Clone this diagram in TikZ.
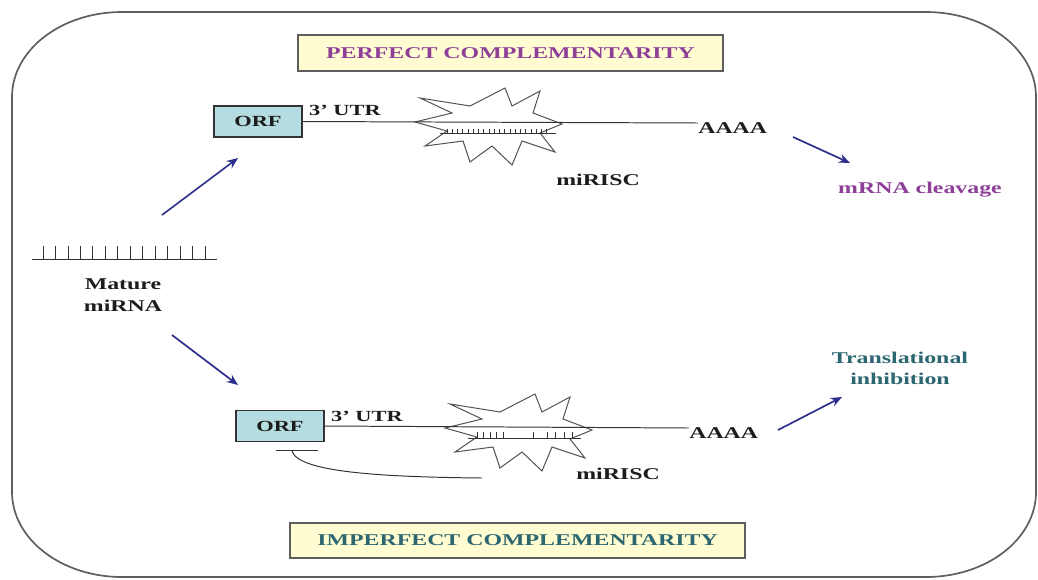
\documentclass[tikz,border=0pt]{standalone}
\usepackage{fontspec}
\setmainfont{Liberation Serif}[FakeStretch=1.45]
\usetikzlibrary{arrows.meta}
\definecolor{framegray}{HTML}{5E5E5E}
\definecolor{labelpurple}{HTML}{8E3F98}
\definecolor{labelteal}{HTML}{2C6671}
\definecolor{arrownavy}{HTML}{2B2E8A}
\definecolor{boxyellow}{HTML}{FFFCD2}
\definecolor{orfblue}{HTML}{B5DCE0}
\definecolor{rnagray}{HTML}{333333}
\definecolor{inkblack}{HTML}{1C1C1C}

% irregular burst outline standing for the miRISC complex
\newcommand{\riscburst}{%
  \draw[burst] (-72,-3) -- (-35,-12) -- (-67,-27) -- (-17,-19) -- (18,-37)
    -- (25,-19) -- (53,-34) -- (46,-12) -- (75,-1) -- (53,8) -- (68,27)
    -- (35,16) -- (25,40) -- (5,21) -- (-17,37) -- (-24,16) -- (-62,21)
    -- (-40,6) -- cycle;}

\begin{document}
\begin{tikzpicture}[x=0.025cm,y=-0.025cm,
  lbl/.style={font=\fontsize{11.7}{14}\selectfont\bfseries, inner sep=0pt, text=inkblack},
  smalllbl/.style={font=\fontsize{11}{13}\selectfont\bfseries, inner sep=0pt, text=inkblack},
  titlebox/.style={draw=framegray, line width=1pt, fill=boxyellow, inner sep=0pt,
    font=\fontsize{11.7}{14}\selectfont\bfseries},
  orfbox/.style={draw=rnagray, line width=0.9pt, fill=orfblue, inner sep=0pt,
    minimum width=2.2cm, minimum height=0.77cm, font=\fontsize{11}{13}\selectfont\bfseries,
    text=inkblack},
  burst/.style={draw=rnagray!85, line width=0.7pt, fill=white, line join=miter},
  rna/.style={draw=rnagray, line width=0.7pt},
  pair/.style={draw=rnagray, line width=0.5pt},
  arr/.style={draw=arrownavy, line width=1.2pt, -{Stealth[length=8pt,width=6.5pt]}}]
\useasboundingbox (0,0) rectangle (1038,579);

% outer frame with elliptical corners
\draw[framegray, line width=1.2pt]
  (122,12) arc[start angle=270, end angle=180, x radius=110, y radius=85]
  -- (12,492) arc[start angle=180, end angle=90, x radius=110, y radius=85]
  -- (926,577) arc[start angle=90, end angle=0, x radius=110, y radius=85]
  -- (1036,97) arc[start angle=0, end angle=-90, x radius=110, y radius=85]
  -- cycle;

% headings
\node[titlebox, text=labelpurple, minimum width=10.625cm, minimum height=0.9cm]
  (perfect) at (510.5,53) {PERFECT COMPLEMENTARITY};
\node[titlebox, text=labelteal, minimum width=11.375cm, minimum height=0.875cm]
  (imperfect) at (517.5,540.5) {IMPERFECT COMPLEMENTARITY};

% mature miRNA strand
\draw[rna] (32,259) coordinate (mirl) -- (217,259) coordinate (mirr);
\foreach \i in {0,...,13}
  \draw[pair] ({43+12.46*\i},246) -- ({43+12.46*\i},259);
\node[lbl, align=center] (mature) at (123,295) {Mature\\[2pt]miRNA};

% perfect complementarity: cleavage
\begin{scope}[shift={(487,125)}]
  \riscburst
\end{scope}
\node[orfbox] (orf1) at (258,121.5) {ORF};
\node[lbl, anchor=west] (aaaa1) at (698,128) {AAAA};
\draw[rna] (orf1.east) -- (aaaa1.west |- 0,123);
\draw[rna] (440,133) coordinate (s1l) -- (556,133) coordinate (s1r);
\foreach \i in {0,...,19}
  \draw[pair] ({447+5.25*\i},128.5) -- ({447+5.25*\i},133);
\node[smalllbl] (utr1) at (345,110) {3’ UTR};
\node[lbl] (risc1) at (598,180) {miRISC};
\node[lbl, text=labelpurple] (cleave) at (920,190) {mRNA cleavage};

% imperfect complementarity: translational inhibition
\begin{scope}[shift={(517,431)}]
  \riscburst
\end{scope}
\node[orfbox] (orf2) at (280,426) {ORF};
\node[lbl, anchor=west] (aaaa2) at (689,433) {AAAA};
\draw[rna] (orf2.east) -- (aaaa2.west |- 0,428);
\draw[rna] (468,438) coordinate (s2l) -- (581,438) coordinate (s2r);
\foreach \x in {477,483.5,490,496.5,503,533,547,555.5,564,572}
  \draw[pair] (\x,432) -- (\x,438);
\node[smalllbl] (utr2) at (367,416) {3’ UTR};
\node[lbl] (risc2) at (618,474) {miRISC};
\node[lbl, text=labelteal, align=center] (inhib) at (900,368)
  {Translational\\[1pt]inhibition};

% loop from the 3' end back to the ORF
\coordinate (bar1) at (276,450);
\coordinate (bar2) at (318,450);
\draw[rna] (bar1) -- (bar2);
\coordinate (loopa) at (292,451);
\coordinate (loopb) at (482,478);
\draw[rna] (loopa) .. controls (298,472) and (380,477) .. (loopb);

% pathway arrows
\coordinate (p1s) at (162,215); \coordinate (p1e) at (238,158);
\coordinate (p2s) at (172,335); \coordinate (p2e) at (238,385);
\coordinate (p3s) at (793,137); \coordinate (p3e) at (850,163);
\coordinate (p4s) at (778,430); \coordinate (p4e) at (842,397);
\draw[arr] (p1s) -- (p1e);
\draw[arr] (p2s) -- (p2e);
\draw[arr] (p3s) -- (p3e);
\draw[arr] (p4s) -- (p4e);
\end{tikzpicture}
\end{document}
